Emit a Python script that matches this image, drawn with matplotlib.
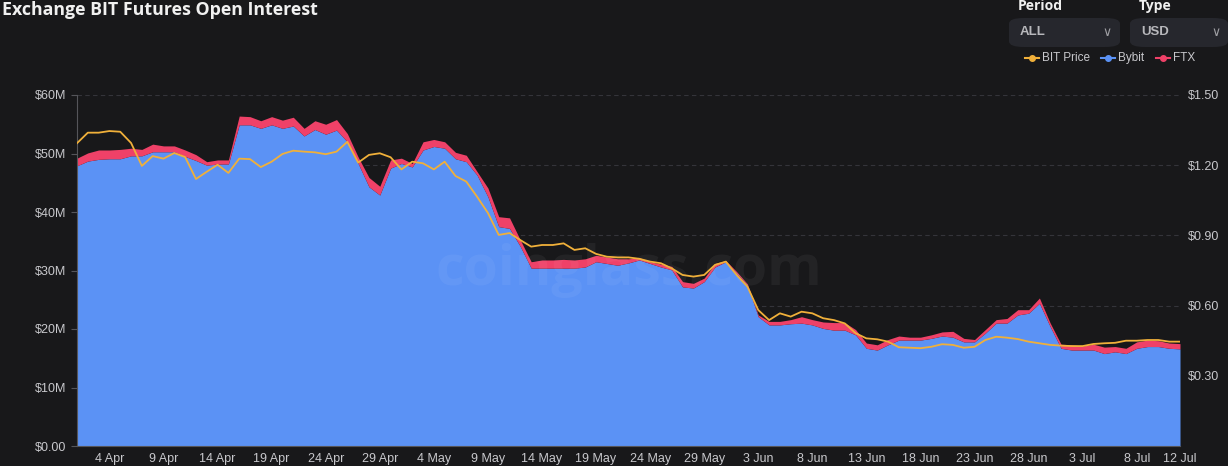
import matplotlib
matplotlib.use("Agg")
import matplotlib.pyplot as plt
from matplotlib.patches import FancyBboxPatch
from matplotlib.lines import Line2D
import pandas as pd
import numpy as np

# daily data, 1 Apr 2022 .. 12 Jul 2022
dates = pd.date_range("2022-04-01", "2022-07-12", freq="D")

bybit_oi = [  # $M
    47.9, 48.7, 49.0, 49.1, 49.1, 49.6, 49.6, 50.3, 50.3, 50.3, 49.5, 48.8, 48.0, 48.2, 48.2,
    54.9, 54.9, 54.3, 54.9, 54.3, 54.7, 53.0, 54.1, 53.3, 54.0, 52.0, 48.3, 44.3, 42.9, 47.5,
    48.3, 47.7, 50.6, 51.2, 50.9, 49.1, 48.6, 46.3, 42.6, 37.5, 37.2, 34.1, 30.4, 30.4, 30.4,
    30.4, 30.4, 30.6, 31.5, 31.2, 30.9, 31.3, 31.8, 31.2, 30.6, 30.1, 27.2, 27.0, 28.1, 30.6, 31.5,
    29.5, 27.5, 22.1, 20.7, 20.7, 20.9, 21.0, 20.7, 20.1, 19.8, 19.8, 19.0, 16.7, 16.4, 17.3,
    18.1, 18.1, 18.1, 18.4, 18.8, 18.6, 17.8, 17.8, 19.3, 21.0, 21.0, 22.4, 22.7, 24.4, 20.4,
    16.7, 16.4, 16.4, 16.4, 15.8, 16.1, 15.8, 16.7, 17.0, 17.0, 16.7, 16.6,
]
ftx_oi = [  # $M
    1.3, 1.4, 1.6, 1.5, 1.6, 1.3, 1.1, 1.3, 1.0, 1.0, 1.1, 1.0, 0.6, 0.7, 0.7,
    1.5, 1.4, 1.3, 1.4, 1.4, 1.5, 1.3, 1.5, 1.7, 1.8, 1.4, 1.1, 1.6, 1.5, 1.4,
    0.9, 0.6, 1.4, 1.2, 1.1, 1.1, 1.1, 0.6, 1.5, 1.7, 1.8, 1.1, 1.1, 1.4, 1.4,
    1.5, 1.4, 1.4, 1.1, 1.1, 1.1, 0.7, 0.4, 0.3, 0.5, 0.6, 0.9, 0.8, 0.6, 0.6, 0.2,
    0.3, 0.2, 0.3, 0.6, 0.6, 0.7, 1.1, 0.9, 1.1, 1.3, 1.3, 0.9, 0.9, 0.9, 0.9,
    0.7, 0.5, 0.5, 0.6, 0.7, 1.0, 0.6, 0.4, 0.6, 0.6, 0.8, 0.9, 0.6, 0.9, 0.6,
    0.7, 0.9, 0.7, 1.0, 1.1, 0.9, 0.9, 1.1, 1.1, 1.0, 0.9, 0.9,
]
bit_price = [
    1.294, 1.339, 1.339, 1.346, 1.343, 1.295, 1.197, 1.239, 1.228, 1.252, 1.235, 1.141, 1.172, 1.202, 1.167,
    1.228, 1.226, 1.192, 1.215, 1.248, 1.262, 1.258, 1.255, 1.247, 1.258, 1.300, 1.211, 1.244, 1.251, 1.234,
    1.182, 1.215, 1.208, 1.182, 1.215, 1.154, 1.130, 1.065, 0.996, 0.902, 0.910, 0.880, 0.852, 0.859, 0.859,
    0.866, 0.838, 0.845, 0.821, 0.809, 0.806, 0.806, 0.800, 0.788, 0.781, 0.759, 0.731, 0.724, 0.731, 0.774, 0.788,
    0.731, 0.681, 0.581, 0.538, 0.567, 0.553, 0.574, 0.567, 0.546, 0.538, 0.524, 0.482, 0.460, 0.456, 0.446,
    0.422, 0.420, 0.418, 0.424, 0.435, 0.432, 0.420, 0.424, 0.453, 0.467, 0.463, 0.457, 0.446, 0.439, 0.432,
    0.429, 0.427, 0.427, 0.436, 0.439, 0.441, 0.450, 0.450, 0.453, 0.453, 0.446, 0.446,
]

x_labels = ["4 Apr", "9 Apr", "14 Apr", "19 Apr", "24 Apr", "29 Apr", "4 May", "9 May",
            "14 May", "19 May", "24 May", "29 May", "3 Jun", "8 Jun", "13 Jun", "18 Jun",
            "23 Jun", "28 Jun", "3 Jul", "8 Jul", "12 Jul"]
left_ticks = [0, 10, 20, 30, 40, 50, 60]
left_labels = ["$0.00", "$10M", "$20M", "$30M", "$40M", "$50M", "$60M"]
right_ticks = [0.30, 0.60, 0.90, 1.20, 1.50]
right_labels = ["$0.30", "$0.60", "$0.90", "$1.20", "$1.50"]

BG = "#18181a"
BLUE = "#5b92f5"
RED = "#ef4168"
GOLD = "#f0b03a"
TXT = "#c8c8cc"

plt.rcParams['font.family'] = ['Liberation Sans', 'DejaVu Sans']

fig = plt.figure(figsize=(12.28, 4.66), dpi=100)
fig.patch.set_facecolor(BG)
ax = fig.add_axes([77 / 1228, 20 / 466, 1103 / 1228, 351 / 466])
ax.set_facecolor(BG)

LMAX, RMAX = 60, 1.5

# grid lines follow the right axis but sit behind the areas
for t in right_ticks:
    ax.axhline(t * LMAX / RMAX, color="#34343a", ls=(0, (4, 3)), lw=0.8, zorder=1)

bybit = np.array(bybit_oi)
total = bybit + np.array(ftx_oi)
ax.fill_between(dates, 0, bybit, color=BLUE, lw=0, zorder=2)
ax.fill_between(dates, bybit, total, color=RED, lw=0, zorder=2)
ax.set_ylim(0, LMAX)
ax.set_xlim(dates[0], dates[-1])
ax.set_yticks(left_ticks)
ax.set_yticklabels(left_labels)

ax2 = ax.twinx()
ax2.plot(dates, bit_price, color=GOLD, lw=1.3, zorder=5)
ax2.set_ylim(0, RMAX)
ax2.set_yticks(right_ticks)
ax2.set_yticklabels(right_labels)
ax2.set_zorder(ax.get_zorder() + 1)
ax2.patch.set_visible(False)

tick_dates = [pd.to_datetime(s + " 2022", format="%d %b %Y") for s in x_labels]
ax.set_xticks(tick_dates)
ax.set_xticklabels(x_labels)

for a in (ax, ax2):
    for s in a.spines.values():
        s.set_visible(False)
    a.tick_params(colors=TXT, labelsize=9, length=0, pad=6)
ax.spines["left"].set_visible(True)
ax.spines["left"].set_color("#55555a")
ax.spines["bottom"].set_visible(True)
ax.spines["bottom"].set_color("#55555a")
ax.tick_params(axis="y", length=4, color="#55555a", pad=4)
ax.tick_params(axis="x", pad=5)
ax2.tick_params(axis="y", pad=6)

# watermark
ax.text(0.5, 0.5, "coinglass.com", transform=ax.transAxes, ha="center", va="center",
        fontsize=40, fontweight="bold", color="white", alpha=0.05, zorder=3,
        family=["Open Sans", "DejaVu Sans"])

# title
fig.text(2 / 1228, 1 - 10 / 466, "Exchange BIT Futures Open Interest", ha="left", va="center",
         fontsize=12.8, fontweight="bold", color="#f0f0f0", family=["Open Sans", "DejaVu Sans"])

# selector boxes
for lab, val, x0, w in [("Period", "ALL", 1009, 111), ("Type", "USD", 1130, 98)]:
    fig.text((x0 + 9) / 1228, 1 - 6 / 466, lab, ha="left", va="center", fontsize=10,
             fontweight="bold", color="#f0f0f0", family=["Open Sans", "DejaVu Sans"])
    box = FancyBboxPatch((x0 / 1228, 1 - 47 / 466), w / 1228, 29 / 466,
                         boxstyle="round,pad=0,rounding_size=0.012", transform=fig.transFigure,
                         facecolor="#26272d", edgecolor="none")
    fig.patches.append(box)
    fig.text((x0 + 11) / 1228, 1 - 32 / 466, val, ha="left", va="center", fontsize=9.5,
             fontweight="bold", color="#b8b8bc")
    fig.text((x0 + min(w - 17, 93)) / 1228, 1 - 32 / 466, "\u2228", ha="left", va="center",
             fontsize=9, color="#a0a0a4", family=["DejaVu Sans"])

# legend
for name, col, xm in [("BIT Price", GOLD, 1032), ("Bybit", BLUE, 1108), ("FTX", RED, 1163)]:
    fig.add_artist(Line2D([(xm - 7) / 1228, (xm + 7) / 1228], [1 - 58 / 466] * 2,
                          transform=fig.transFigure, color=col, lw=1.5))
    fig.add_artist(Line2D([xm / 1228], [1 - 58 / 466], transform=fig.transFigure, color=col,
                          marker="o", ms=4, markeredgecolor=col))
    fig.text((xm + 10) / 1228, 1 - 58 / 466, name, ha="left", va="center", fontsize=8.5, color=TXT)

fig.savefig("out.png", dpi=100, facecolor=BG)
